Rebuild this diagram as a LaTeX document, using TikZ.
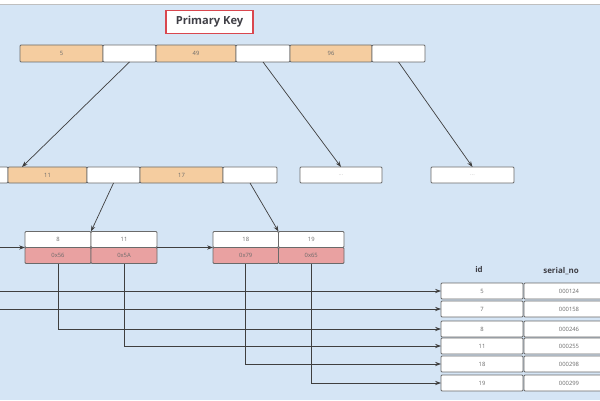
\documentclass[tikz,border=0pt]{standalone}
\usepackage{fontspec}
\setmainfont{Open Sans}
\usetikzlibrary{arrows.meta}
\tikzset{>={Stealth[length=5pt,width=3.6pt]}}

\definecolor{bgblue}{HTML}{D5E5F5}
\definecolor{keyorange}{HTML}{F5CDA0}
\definecolor{ptrpink}{HTML}{E9A1A1}
\definecolor{cellline}{HTML}{6A6A6A}
\definecolor{celltext}{HTML}{6A6A6A}
\definecolor{linkgray}{HTML}{3F3F3F}
\definecolor{keyred}{HTML}{D9474F}
\definecolor{darktext}{HTML}{3F3F46}

\tikzset{
  cell/.style={draw=cellline, fill=white, line width=0.75pt, inner sep=0pt, outer sep=0pt,
    minimum height=0.48cm, rounded corners=0.8pt, text=celltext, font=\fontsize{5}{6}\selectfont},
  keycell/.style={cell, fill=keyorange},
  ptrcell/.style={cell, fill=ptrpink},
  link/.style={->, draw=linkgray, line width=0.6pt},
  head/.style={text=darktext, font=\bfseries\fontsize{6.8}{8}\selectfont}
}

\begin{document}
\begin{tikzpicture}[x=0.03cm, y=-0.03cm]
\useasboundingbox (0,0) rectangle (600,400);
% backdrop
\fill[bgblue] (0,4) rectangle (600,400);
\draw[gray!50] (0,4) -- (600,4);

% title box
\node[draw=keyred, fill=white, line width=0.9pt, minimum width=2.61cm, minimum height=0.69cm,
  text=darktext, font=\bfseries\fontsize{9.5}{11}\selectfont] (pk) at (209.5,22) {Primary Key};

% root page
\node[keycell, minimum width=2.49cm, minimum height=0.51cm, anchor=west] (r1) at (20,53.5) {5};
\node[cell, minimum width=1.59cm, minimum height=0.51cm, anchor=west] (r2) at (r1.east) {};
\node[keycell, minimum width=2.40cm, minimum height=0.51cm, anchor=west] (r3) at (r2.east) {49};
\node[cell, minimum width=1.62cm, minimum height=0.51cm, anchor=west] (r4) at (r3.east) {};
\node[keycell, minimum width=2.46cm, minimum height=0.51cm, anchor=west] (r5) at (r4.east) {96};
\node[cell, minimum width=1.59cm, minimum height=0.51cm, anchor=west] (r6) at (r5.east) {};

% second level
\node[cell, minimum width=1.59cm, anchor=east] (a0) at (8,175) {};
\node[keycell, minimum width=2.37cm, anchor=west] (a1) at (a0.east) {11};
\node[cell, minimum width=1.59cm, anchor=west] (a2) at (a1.east) {};
\node[keycell, minimum width=2.49cm, anchor=west] (a3) at (a2.east) {17};
\node[cell, minimum width=1.62cm, anchor=west] (a4) at (a3.east) {};
\node[cell, minimum width=2.46cm, text=celltext!40] (b) at (341,175) {...};
\node[cell, minimum width=2.49cm, text=celltext!40] (c) at (472.5,175) {...};

% leaves
\node[cell, minimum width=1.98cm, anchor=north west] (k1) at (25,231.5) {8};
\node[cell, minimum width=1.98cm, anchor=west] (k2) at (k1.east) {11};
\node[ptrcell, minimum width=1.98cm, anchor=north] (p1) at (k1.south) {0x56};
\node[ptrcell, minimum width=1.98cm, anchor=north] (p2) at (k2.south) {0x5A};
\node[cell, minimum width=1.965cm, anchor=north west] (k3) at (213,231.5) {18};
\node[cell, minimum width=1.965cm, anchor=west] (k4) at (k3.east) {19};
\node[ptrcell, minimum width=1.965cm, anchor=north] (p3) at (k3.south) {0x79};
\node[ptrcell, minimum width=1.965cm, anchor=north] (p4) at (k4.south) {0x65};

% table
\node[head] (hid) at (479,270) {id};
\node[head] (hsn) at (561,271) {serial\_no};
\foreach \i/\y/\id/\sn in {1/291/5/000124, 2/309/7/000158, 3/329/8/000246,
                           4/346/11/000255, 5/364/18/000298, 6/383/19/000299}
{
\node[cell, minimum width=2.46cm, anchor=west] (id\i) at (441,\y) {\id};
\node[cell, minimum width=2.70cm, anchor=west] (sn\i) at (524,\y) {\sn};
}

% links between pages
\draw[link] (r2.south) -- ([xshift=0.42cm]a1.north west);
\draw[link] (r4.south) -- (b.north);
\draw[link] (r6.south) -- (c.north);
\draw[link] (a2.south) -- (k1.north east);
\draw[link] (a4.south) -- (k3.north east);
\coordinate (prev) at (0,247.5);
\draw[link] (prev) -- (k1.south west);
\draw[link] (k2.south east) -- (k3.south west);

% links to rows
\coordinate (in1) at (0,291);
\coordinate (in2) at (0,309);
\draw[link] (in1) -- (id1.west);
\draw[link] (in2) -- (id2.west);
\draw[link] (p1.south) |- (id3.west);
\draw[link] (p2.south) |- (id4.west);
\draw[link] (p3.south) |- (id5.west);
\draw[link] (p4.south) |- (id6.west);
\end{tikzpicture}
\end{document}
